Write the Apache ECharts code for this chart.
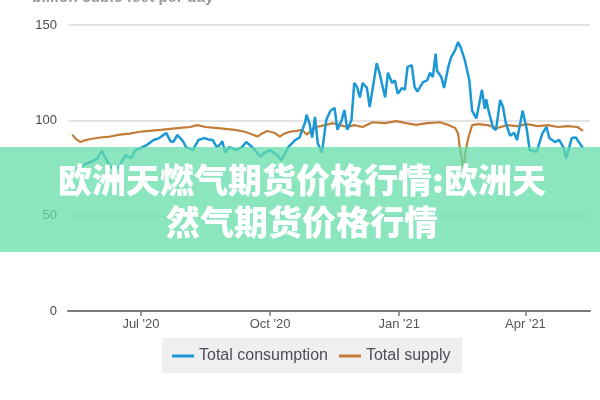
<!DOCTYPE html>
<html>
<head>
<meta charset="utf-8">
<script src="https://cdn.jsdelivr.net/npm/echarts@6/dist/echarts.min.js"></script>
<style>html,body{margin:0;padding:0;background:#fff}#c{width:600px;height:400px}</style>
</head>
<body>
<div id="c"></div>
<script>
const unitTitle = "billion cubic feet per day";
const bannerText = "欧洲天燃气期货价格行情:欧洲天\n然气期货价格行情";
const seriesNames = ["Total consumption", "Total supply"];
const tickDates = ["2020-07-01", "2020-10-01", "2021-01-01", "2021-04-01"];
const monthNames = ["Jan","Feb","Mar","Apr","May","Jun","Jul","Aug","Sep","Oct","Nov","Dec"];

const consDates = ["2020-05-13","2020-05-17","2020-05-22","2020-05-26","2020-05-31","2020-06-03","2020-06-08","2020-06-12","2020-06-15","2020-06-20",
"2020-06-24","2020-06-27","2020-07-01","2020-07-05","2020-07-10","2020-07-14","2020-07-19","2020-07-22","2020-07-24","2020-07-27",
"2020-07-31","2020-08-02","2020-08-07","2020-08-11","2020-08-15","2020-08-18","2020-08-21","2020-08-24","2020-08-26","2020-08-28",
"2020-08-30","2020-09-02","2020-09-07","2020-09-11","2020-09-14","2020-09-19","2020-09-24","2020-09-27","2020-10-01","2020-10-06",
"2020-10-09","2020-10-14","2020-10-19","2020-10-22","2020-10-26","2020-10-27","2020-10-29","2020-10-31","2020-11-02","2020-11-04",
"2020-11-07","2020-11-10","2020-11-13","2020-11-16","2020-11-18","2020-11-21","2020-11-23","2020-11-25","2020-11-28","2020-11-30",
"2020-12-02","2020-12-04","2020-12-06","2020-12-09","2020-12-11","2020-12-13","2020-12-16","2020-12-18","2020-12-22","2020-12-24",
"2020-12-27","2020-12-29","2020-12-31","2021-01-03","2021-01-05","2021-01-07","2021-01-10","2021-01-12","2021-01-14","2021-01-18",
"2021-01-21","2021-01-23","2021-01-25","2021-01-27","2021-01-28","2021-01-31","2021-02-02","2021-02-05","2021-02-07","2021-02-10",
"2021-02-12","2021-02-14","2021-02-17","2021-02-20","2021-02-22","2021-02-25","2021-03-01","2021-03-03","2021-03-04","2021-03-06",
"2021-03-09","2021-03-11","2021-03-14","2021-03-16","2021-03-18","2021-03-21","2021-03-24","2021-03-26","2021-03-30","2021-04-02",
"2021-04-04","2021-04-09","2021-04-13","2021-04-16","2021-04-18","2021-04-22","2021-04-25","2021-04-28","2021-04-30","2021-05-04",
"2021-05-07","2021-05-09","2021-05-12"];
const consValues = [76,74,77,78,80,84,77,74,75.5,81.8,
80,84.4,85.5,87,89.7,90.7,93.4,89,88.6,92.3,
89,86,84.4,89.7,90.7,90,89.7,86,87,89,
83,86,84.4,86,88.6,85.5,80.8,83,84.4,81.8,
79,86,89.7,91,99,103,98.6,91,101.8,88,
83,100,105,106.5,95,100,105.4,95,100,119.6,
117.5,112,119.6,117,107,116,130,124.8,112,125,
119.6,121,114,117,116,128,129,117.5,115,120,
121,125,122.7,135,126,122.7,117,128,133,137,
141,138,131,121,105,101,116,106,111,104,
96,95,110.7,107,98.6,92,93.4,89.7,105,95,
84.4,83.5,93,96.5,90.7,88.6,89.7,86,80,90.7,
91,88.6,85.5];

const supDates = ["2020-05-13","2020-05-16","2020-05-19","2020-05-22","2020-05-26","2020-06-02","2020-06-09","2020-06-16","2020-06-23","2020-06-30",
"2020-07-07","2020-07-15","2020-07-22","2020-07-29","2020-08-05","2020-08-10","2020-08-16","2020-08-23","2020-08-30","2020-09-06",
"2020-09-13","2020-09-17","2020-09-22","2020-09-25","2020-09-29","2020-10-04","2020-10-08","2020-10-11","2020-10-15","2020-10-20",
"2020-10-24","2020-10-27","2020-10-31","2020-11-03","2020-11-09","2020-11-15","2020-11-20","2020-11-25","2020-11-30","2020-12-06",
"2020-12-13","2020-12-22","2020-12-30","2021-01-06","2021-01-13","2021-01-21","2021-01-30","2021-02-05","2021-02-10","2021-02-12",
"2021-02-13","2021-02-15","2021-02-16","2021-02-17","2021-02-19","2021-02-22","2021-02-26","2021-03-05","2021-03-12","2021-03-19",
"2021-03-26","2021-04-02","2021-04-10","2021-04-17","2021-04-24","2021-05-01","2021-05-08","2021-05-12"];
const supValues = [92.5,90,88.6,89.5,90.2,91,91.5,92.5,93,94,
94.5,95,95.5,96,96.5,97.5,96.5,96,95.5,95,
94,93,91.5,93,94.4,93.5,91.5,93,94,94.5,
95,92.5,95,96.5,97.5,98.5,97.5,96.5,97.5,96.5,
99,98.5,99.6,98.5,97.6,98.5,99,97.6,96,93,
87,78,74,82,90,97.5,98,97.5,96,97.5,
97,98,97,97.5,96.5,97,96.5,94.5];

function localTs(s){ const p=s.split('-').map(Number); return +new Date(p[0], p[1]-1, p[2]); }
function pairs(d, v){ return d.map((x,i)=>[localTs(x), v[i]]); }
const tickTs = tickDates.map(localTs);

const chart = echarts.init(document.getElementById('c'), null, {renderer:'canvas'});
chart.setOption({
  animation: false,
  backgroundColor: '#ffffff',
  grid: { left: 68, right: 10, top: 25, bottom: 89, containLabel: false },
  xAxis: {
    type: 'value',
    min: localTs('2020-05-10'),
    max: localTs('2021-05-17'),
    axisLine: { show: true, lineStyle: { color: '#7a7a7a', width: 2 } },
    axisTick: { show: true, customValues: tickTs, interval: 0, length: 5, lineStyle: { color: '#7a7a7a', width: 1.5 } },
    axisLabel: {
      customValues: tickTs, interval: 0, hideOverlap: false,
      color: '#555', fontSize: 13, margin: 7, fontFamily: 'Liberation Sans, Arial, sans-serif',
      formatter: function(v){ const d=new Date(v); return monthNames[d.getMonth()] + " '" + String(d.getFullYear()).slice(2); }
    },
    splitLine: { show: false }
  },
  yAxis: {
    type: 'value', min: 0, max: 150, interval: 50,
    axisLine: { show: false }, axisTick: { show: false },
    axisLabel: { color: '#4a4a4a', fontSize: 13, margin: 11, fontFamily: 'Liberation Sans, Arial, sans-serif' },
    splitLine: { lineStyle: { color: '#dadada', width: 1.5 } }
  },
  legend: {
    left: 162, top: 338,
    backgroundColor: '#efefef',
    padding: [10, 12, 9, 10],
    itemWidth: 22, itemHeight: 3, itemGap: 11,
    icon: 'rect',
    textStyle: { color: '#4b4d5a', fontSize: 16, fontFamily: 'Liberation Sans, Arial, sans-serif' },
    data: seriesNames
  },
  series: [
    { name: seriesNames[0], type: 'line', data: pairs(consDates, consValues), showSymbol: false,
      lineStyle: { color: '#1b98d5', width: 2.5 }, itemStyle: { color: '#1b98d5' }, z: 3 },
    { name: seriesNames[1], type: 'line', data: pairs(supDates, supValues), showSymbol: false,
      lineStyle: { color: '#c27c38', width: 2.2 }, itemStyle: { color: '#c27c38' }, z: 2 }
  ],
  graphic: [
    { type: 'text', left: 32, top: -10, z: 10,
      style: { text: unitTitle, fill: '#9a9a9a', font: 'bold 15.5px "Liberation Sans", Arial, sans-serif' } },
    { type: 'rect', shape: { x: 0, y: 147, width: 600, height: 105 }, z: 50,
      style: { fill: 'rgba(100,220,170,0.75)' } },
    { type: 'text', x: 302, y: 201, z: 51,
      style: { text: bannerText, fill: '#ffffff', align: 'center', verticalAlign: 'middle',
               font: '900 34px "Noto Sans CJK SC", sans-serif', lineHeight: 42 } }
  ]
});
</script>
</body>
</html>
